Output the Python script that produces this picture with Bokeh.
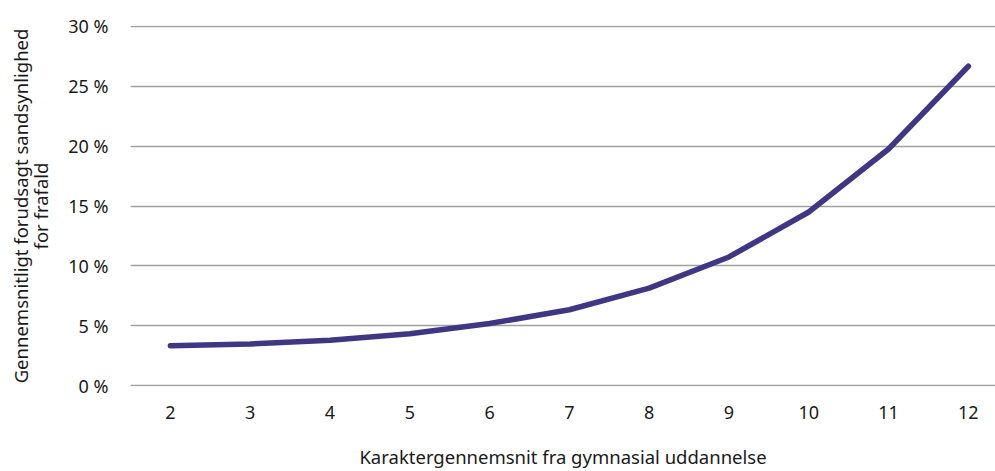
from bokeh.plotting import figure
from bokeh.models import FixedTicker, Range1d
from bokeh.embed import file_html
from bokeh.resources import INLINE

grades = [2, 3, 4, 5, 6, 7, 8, 9, 10, 11, 12]
dropout_pct = [3.35, 3.5, 3.8, 4.35, 5.2, 6.35, 8.15, 10.75, 14.5, 19.75, 26.65]
y_ticks = [0, 5, 10, 15, 20, 25, 30]
y_tick_labels = {t: f"{t} %" for t in y_ticks}

FONT = "Noto Sans"

p = figure(width=995, height=471, output_backend="svg", toolbar_location=None,
           x_range=Range1d(1.5, 12.34), y_range=Range1d(-0.05, 30.05),
           min_border_left=130, min_border_right=0, min_border_top=25, min_border_bottom=85)
p.outline_line_color = None

p.line(grades, dropout_pct, line_color="#3f3784", line_width=5.5, line_cap="round", line_join="round")

p.xgrid.grid_line_color = None
p.ygrid.grid_line_color = "#a0a0a0"
p.ygrid.grid_line_width = 1.3

p.yaxis.ticker = FixedTicker(ticks=y_ticks)
p.yaxis.major_label_overrides = y_tick_labels
p.xaxis.ticker = FixedTicker(ticks=grades)

for ax in (p.xaxis[0], p.yaxis[0]):
    ax.axis_line_color = None
    ax.major_tick_line_color = None
    ax.minor_tick_line_color = None
    ax.major_label_text_font = FONT
    ax.major_label_text_font_size = "18px"
    ax.major_label_text_color = "#1a1a1a"
    ax.axis_label_text_font = FONT
    ax.axis_label_text_font_size = "18.5px"
    ax.axis_label_text_font_style = "normal"
    ax.axis_label_text_color = "#1a1a1a"

p.yaxis.major_label_standoff = 16
p.xaxis.major_label_standoff = 13
p.xaxis.axis_label = "Karaktergennemsnit fra gymnasial uddannelse"
p.xaxis.axis_label_standoff = 22
p.yaxis.axis_label = "Gennemsnitligt forudsagt sandsynlighed\nfor frafald"
p.yaxis.axis_label_standoff = 12
p.yaxis.axis_label_text_line_height = 0.8

open("out.html", "w").write(file_html(p, INLINE))
